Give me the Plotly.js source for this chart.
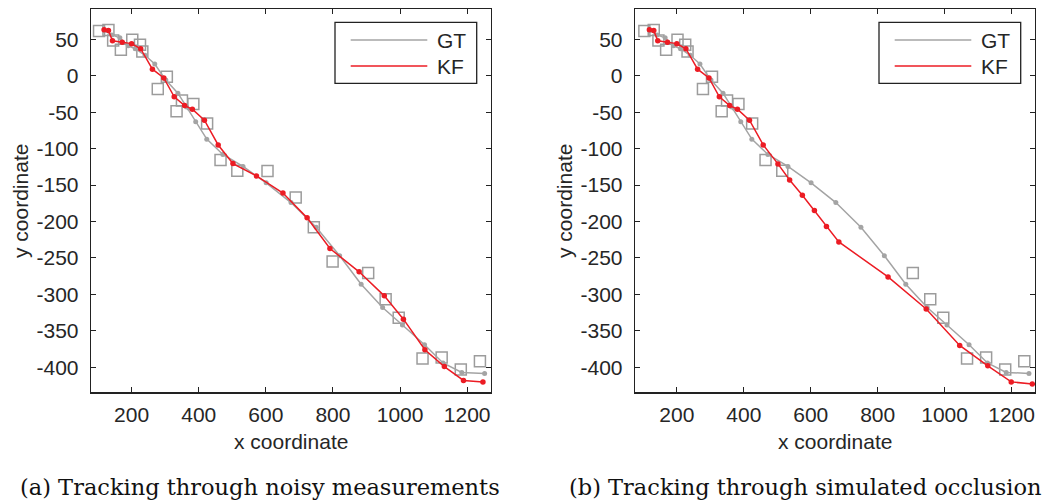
<!DOCTYPE html>
<html>
<head>
<meta charset="utf-8">
<script src="https://cdn.plot.ly/plotly-3.0.1.min.js"></script>
<style>html,body{margin:0;padding:0;background:#fff;}#chart{width:1049px;height:501px;}</style>
</head>
<body>
<div id="chart"></div>
<script>
// Ground truth (shared by both panels)
const gtX = [119, 141, 165, 190, 211, 240, 269, 302, 338, 364, 391, 424, 472, 532, 601, 675, 750, 820, 884, 948, 1007, 1073, 1128, 1184, 1252];
const gtY = [62, 56, 52, 41, 37, 28, 16, -6, -24, -43, -63, -87, -108, -124.5, -147, -174, -208, -247, -286, -318, -342, -369, -394, -407, -408.5];

// KF estimate, panel (a)
const kfAX = [118, 131, 143, 172, 200, 227, 262, 296, 327, 358, 381, 417, 458, 502, 572, 651, 723, 791, 878, 953, 1010, 1074, 1132, 1189, 1247];
const kfAY = [63, 62, 48, 46, 44, 37, 9, -3, -29, -41, -46, -61, -95, -120.5, -137.5, -161, -195, -237, -269, -302, -334, -376, -399, -418, -420];

// KF estimate, panel (b)
const kfBX = [118, 131, 143, 172, 200, 227, 262, 296, 327, 358, 381, 417, 458, 502, 537, 575, 611, 647, 684, 831, 945, 1045, 1129, 1199, 1262];
const kfBY = [63, 62, 48, 46, 44, 37, 9, -3, -29, -41, -46, -61, -95, -121, -143, -164, -185, -207, -228, -276, -320, -370, -398, -420, -423];

// Measurements, panel (a)
const measAX = [103, 131, 145, 168, 202, 225, 232, 278, 305, 334, 350, 384, 425, 465, 515, 605, 689, 743, 799, 905, 957, 996, 1067, 1124, 1181, 1238];
const measAY = [61.5, 62.8, 48.2, 35.5, 49.2, 42.3, 33.2, -18.2, -1.3, -48.8, -34, -38.7, -65.6, -115.7, -130.5, -130.7, -167, -208, -255, -270.5, -306.5, -332, -388, -386.6, -403, -391.7];

// Measurements, panel (b) (occluded section missing)
const measBX = [103, 131, 145, 168, 202, 225, 232, 278, 305, 334, 350, 384, 425, 465, 515, 905, 957, 996, 1067, 1124, 1181, 1238];
const measBY = [61.5, 62.8, 48.2, 35.5, 49.2, 42.3, 33.2, -18.2, -1.3, -48.8, -34, -38.7, -65.6, -115.7, -130.5, -270.5, -306.5, -332, -388, -386.6, -403, -391.7];

const xTickVals = [200, 400, 600, 800, 1000, 1200];
const xTickText = ['200', '400', '600', '800', '1000', '1200'];
const yTickVals = [50, 0, -50, -100, -150, -200, -250, -300, -350, -400];
const yTickText = ['50', '0', '-50', '-100', '-150', '-200', '-250', '-300', '-350', '-400'];

const seriesNames = ['GT', 'KF'];
const captions = ['(a) Tracking through noisy measurements', '(b) Tracking through simulated occlusion'];
const xTitle = 'x coordinate';
const yTitle = 'y coordinate';

const GT_COLOR = '#a4a4a4';
const KF_COLOR = '#ec1c24';
const MEAS_COLOR = '#9c9c9c';
const AXIS_COLOR = '#222222';
const W = 1049, H = 501;
const px = v => v / W;
const py = v => 1 - v / H;

function measTrace(x, y, xa, ya) {
  return {x: x, y: y, xaxis: xa, yaxis: ya, mode: 'markers', type: 'scatter', showlegend: false, name: 'measurement',
    marker: {symbol: 'square-open', size: 11, color: MEAS_COLOR, line: {width: 1.5, color: MEAS_COLOR}}, hoverinfo: 'x+y'};
}
function gtTrace(x, y, xa, ya) {
  return {x: x, y: y, xaxis: xa, yaxis: ya, mode: 'lines+markers', type: 'scatter', showlegend: false, name: seriesNames[0],
    line: {color: GT_COLOR, width: 1.5}, marker: {size: 5, color: GT_COLOR}};
}
function kfTrace(x, y, xa, ya) {
  return {x: x, y: y, xaxis: xa, yaxis: ya, mode: 'lines+markers', type: 'scatter', showlegend: false, name: seriesNames[1],
    line: {color: KF_COLOR, width: 1.5}, marker: {size: 5.5, color: KF_COLOR}};
}

const data = [
  measTrace(measAX, measAY, 'x', 'y'), gtTrace(gtX, gtY, 'x', 'y'), kfTrace(kfAX, kfAY, 'x', 'y'),
  measTrace(measBX, measBY, 'x2', 'y2'), gtTrace(gtX, gtY, 'x2', 'y2'), kfTrace(kfBX, kfBY, 'x2', 'y2')
];

const SANS = '"Liberation Sans", Arial, Helvetica, sans-serif';
const tickFont = {family: SANS, size: 21, color: '#262626'};
function xAxis(domain, range, anchor) {
  return {domain: domain, range: range, anchor: anchor, tickvals: xTickVals, ticktext: xTickText,
    ticks: 'inside', ticklen: 5, tickwidth: 1, tickcolor: AXIS_COLOR, showline: true, linecolor: AXIS_COLOR,
    linewidth: 1.3, mirror: 'ticks', showgrid: false, zeroline: false, tickfont: tickFont, ticklabelstandoff: 3};
}
function yAxis(domain, range, anchor) {
  return {domain: domain, range: range, anchor: anchor, tickvals: yTickVals, ticktext: yTickText,
    ticks: 'inside', ticklen: 5, tickwidth: 1, tickcolor: AXIS_COLOR, showline: true, linecolor: AXIS_COLOR,
    linewidth: 1.3, mirror: 'ticks', showgrid: false, zeroline: false, tickfont: tickFont, ticklabelstandoff: 7};
}
const yDom = [py(392.3), py(9.3)];
const yRange = [-434.3, 91.1];

const shapes = [];
const annotations = [];
const panels = [
  {ax0: 91, ax1: 491, legX: 335},
  {ax0: 635, ax1: 1035, legX: 879}
];
const legendColors = [GT_COLOR, KF_COLOR];
panels.forEach((p, i) => {
  // legend box
  shapes.push({type: 'rect', xref: 'paper', yref: 'paper', x0: px(p.legX), x1: px(p.legX + 141.7), y0: py(22.3), y1: py(83.3),
    line: {color: AXIS_COLOR, width: 1.3}, fillcolor: '#ffffff', layer: 'above'});
  seriesNames.forEach((n, k) => {
    const yy = k === 0 ? 40 : 66;
    shapes.push({type: 'line', xref: 'paper', yref: 'paper', x0: px(p.legX + 15.7), x1: px(p.legX + 92.3), y0: py(yy), y1: py(yy),
      line: {color: legendColors[k], width: 1.5}, layer: 'above'});
    annotations.push({xref: 'paper', yref: 'paper', x: px(p.legX + 100), y: py(yy), xanchor: 'left', yanchor: 'middle',
      text: n, showarrow: false, font: tickFont});
  });
  // axis titles
  const cx = (p.ax0 + p.ax1) / 2;
  annotations.push({xref: 'paper', yref: 'paper', x: px(cx), y: py(441.7), xanchor: 'center', yanchor: 'middle',
    text: xTitle, showarrow: false, font: tickFont});
  annotations.push({xref: 'paper', yref: 'paper', x: px(p.ax0 - 70), y: py(201), xanchor: 'center', yanchor: 'middle',
    text: yTitle, textangle: -90, showarrow: false, font: tickFont});
});
const capFont = {family: '"DejaVu Serif", serif', size: 22.5, color: '#111'};
annotations.push({xref: 'paper', yref: 'paper', x: px(260), y: py(487), xanchor: 'center', yanchor: 'middle',
  text: captions[0], showarrow: false, font: capFont});
annotations.push({xref: 'paper', yref: 'paper', x: px(805), y: py(487), xanchor: 'center', yanchor: 'middle',
  text: captions[1], showarrow: false, font: capFont});

const layout = {
  width: W, height: H, margin: {l: 0, r: 0, t: 0, b: 0}, paper_bgcolor: '#ffffff', plot_bgcolor: '#ffffff',
  showlegend: false,
  xaxis: xAxis([px(91), px(491)], [79, 1271], 'y'),
  yaxis: yAxis(yDom, yRange, 'x'),
  xaxis2: xAxis([px(635), px(1035)], [75, 1270], 'y2'),
  yaxis2: yAxis(yDom, yRange, 'x2'),
  shapes: shapes, annotations: annotations
};
Plotly.newPlot('chart', data, layout, {staticPlot: true, displayModeBar: false});
</script>
</body>
</html>
